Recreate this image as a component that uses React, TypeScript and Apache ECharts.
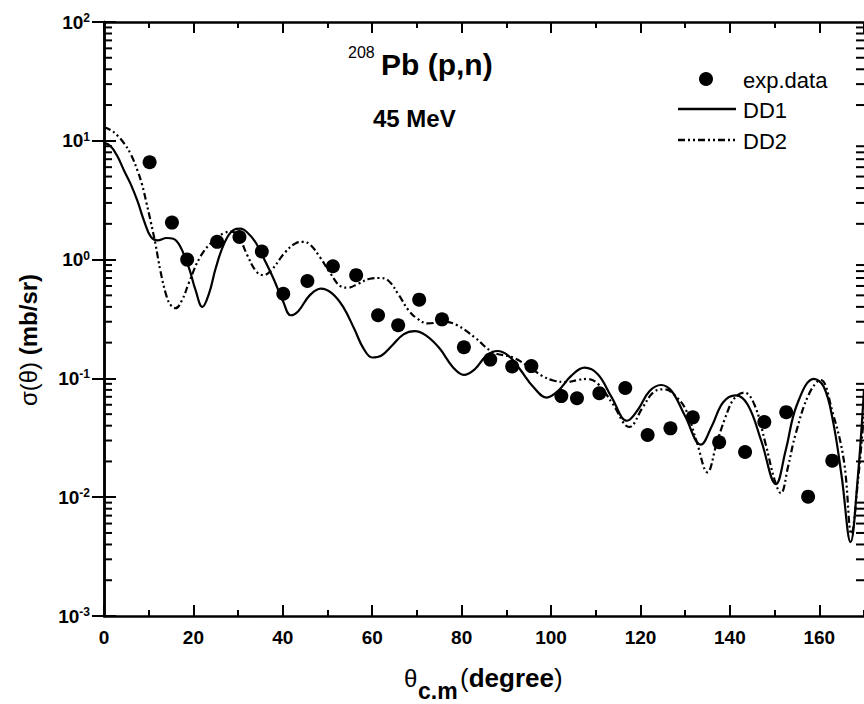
import React, { useEffect, useRef } from "react";
import * as echarts from "echarts";

// experimental points
const expTheta = [10.2, 15.2, 18.6, 25.3, 30.3, 35.3, 40.1, 45.5, 51.2, 56.4, 61.3, 65.8, 70.5, 75.6, 80.5, 86.4, 91.3, 95.6, 102.3, 105.8, 110.8, 116.6, 121.6, 126.7, 131.7, 137.6, 143.4, 147.7, 152.6, 157.5, 162.9];
const expSigma = [6.6, 2.05, 1.0, 1.41, 1.55, 1.17, 0.516, 0.66, 0.88, 0.74, 0.34, 0.28, 0.46, 0.314, 0.183, 0.144, 0.126, 0.127, 0.071, 0.068, 0.075, 0.083, 0.0334, 0.038, 0.047, 0.029, 0.024, 0.043, 0.052, 0.0101, 0.0203];

// DD1 (solid)
const dd1Theta = [0, 1.5, 3, 4.5, 6, 7.5, 9, 10.5, 12, 14, 15.5, 17, 19, 20.5, 22, 23.5, 25, 27, 29, 30.5, 32, 34, 36, 38, 40, 41.8, 43.5, 46, 48.5, 51, 53.5, 56, 58, 60, 62, 64.5, 67, 69.5, 72, 75, 78, 80.5, 83, 85.5, 88, 90.5, 93, 96, 99, 101.5, 104.5, 107.5, 110.5, 113.5, 117, 119.5, 122, 124.6, 127, 130, 133.5, 136, 138.5, 141.3, 144, 147, 150.3, 152.5, 155, 158.8, 161, 163, 165, 167, 168.5, 170];
const dd1Sigma = [9.6, 9.0, 7.4, 5.6, 4.3, 3.1, 2.1, 1.55, 1.45, 1.52, 1.5, 1.3, 0.85, 0.55, 0.4, 0.52, 0.85, 1.4, 1.78, 1.82, 1.7, 1.38, 0.98, 0.68, 0.45, 0.34, 0.37, 0.5, 0.57, 0.52, 0.4, 0.26, 0.18, 0.15, 0.155, 0.19, 0.235, 0.25, 0.23, 0.18, 0.125, 0.107, 0.12, 0.155, 0.17, 0.155, 0.12, 0.085, 0.069, 0.078, 0.105, 0.123, 0.108, 0.07, 0.044, 0.055, 0.078, 0.088, 0.078, 0.048, 0.0277, 0.04, 0.063, 0.072, 0.06, 0.03, 0.0129, 0.025, 0.06, 0.099, 0.085, 0.045, 0.015, 0.0042, 0.013, 0.08];

// DD2 (dash-dot-dot)
const dd2Theta = [0, 1.5, 3, 4.5, 6, 7.5, 8.5, 9.5, 10.5, 11.5, 12.6, 14, 15, 16, 17.5, 19, 21.5, 24.5, 27, 28.5, 30, 32, 34, 35.7, 37.5, 40.5, 43, 44.5, 46, 48.3, 50.5, 52.8, 54.5, 57, 59.5, 61.5, 63.5, 66, 68, 70, 72.5, 76, 79, 83, 87, 91.5, 95.2, 98, 100.5, 103.5, 106, 108, 110.5, 113.8, 117.5, 120.5, 123, 125.5, 128, 130.2, 132.5, 135, 137, 139, 141, 143.2, 145.5, 148, 150, 151.4, 153, 154.7, 157.7, 160.3, 162.9, 165.5, 167.2, 168.5, 170];
const dd2Sigma = [13, 12.3, 11.1, 9.5, 7.7, 5.6, 4.3, 3.0, 2.05, 1.36, 0.81, 0.49, 0.41, 0.39, 0.46, 0.64, 1.05, 1.45, 1.68, 1.72, 1.6, 1.1, 0.8, 0.74, 0.82, 1.15, 1.38, 1.41, 1.35, 1.05, 0.78, 0.6, 0.58, 0.63, 0.69, 0.7, 0.67, 0.5, 0.38, 0.32, 0.29, 0.3, 0.28, 0.22, 0.166, 0.15, 0.124, 0.105, 0.096, 0.093, 0.097, 0.099, 0.09, 0.061, 0.039, 0.057, 0.077, 0.081, 0.07, 0.054, 0.03, 0.0162, 0.028, 0.047, 0.068, 0.076, 0.06, 0.028, 0.014, 0.0108, 0.018, 0.034, 0.074, 0.097, 0.053, 0.0203, 0.0049, 0.012, 0.05];

// axis settings
const xMin = 0;
const xMax = 170;
const xMajor = 20;
const xMinor = 10;
const yMin = 0.001;
const yMax = 100;
const logDecades = [0.001, 0.01, 0.1, 1, 10];
const logMultipliers = [2, 3, 4, 5, 6, 7, 8, 9];

const legendNames = ["exp.data", "DD1", "DD2"];

const FONT = "Arial, 'Liberation Sans', sans-serif";
const DASHDOT = [7, 3, 2, 3, 2, 3];

export default function App() {
  const ref = useRef<HTMLDivElement>(null);
  useEffect(() => {
    if (!ref.current) return;
    const chart = echarts.init(ref.current, null, { renderer: "svg" });
    const zip = (a: number[], b: number[]) => a.map((v, i) => [v, b[i]]);
    const minorVals: number[] = [];
    logDecades.forEach((d) => logMultipliers.forEach((m) => minorVals.push(m * d)));

    const baseX = {
      type: "value",
      min: xMin,
      max: xMax,
      axisLine: { show: true, lineStyle: { color: "#000", width: 2.5 } },
      splitLine: { show: false },
    };
    const yLabelFmt = (v: number) => {
      const e = Math.round(Math.log10(v));
      return `{a|10}{b|${e}}`;
    };
    const minorTickSeries = (xv: number, offset: number) => ({
      type: "scatter",
      silent: true,
      clip: false,
      z: 5,
      data: minorVals.map((v) => [xv, v]),
      symbol: "rect",
      symbolSize: [8, 2],
      symbolOffset: [offset, 0],
      itemStyle: { color: "#000", opacity: 1 },
      emphasis: { disabled: true },
    });

    const option: any = {
      animation: false,
      backgroundColor: "#fff",
      grid: { left: 104, top: 22, right: 0, bottom: 88, containLabel: false, outerBoundsMode: "none" },
      xAxis: [
        {
          ...baseX,
          position: "bottom",
          interval: xMajor,
          axisTick: { show: true, inside: true, length: 11, lineStyle: { color: "#000", width: 2 } },
          axisLabel: {
            show: true, margin: 12, color: "#000", fontFamily: FONT, fontWeight: "bold", fontSize: 19,
            showMaxLabel: false,
          },
        },
        {
          ...baseX,
          position: "top",
          interval: xMajor,
          axisTick: { show: true, inside: true, length: 11, lineStyle: { color: "#000", width: 2 } },
          axisLabel: { show: false },
        },
        {
          ...baseX,
          position: "bottom",
          interval: xMinor,
          axisLine: { show: false },
          axisTick: { show: true, inside: true, length: 6, lineStyle: { color: "#000", width: 2 } },
          axisLabel: { show: false },
        },
        {
          ...baseX,
          position: "top",
          interval: xMinor,
          axisLine: { show: false },
          axisTick: { show: true, inside: true, length: 6, lineStyle: { color: "#000", width: 2 } },
          axisLabel: { show: false },
        },
      ],
      yAxis: [
        {
          type: "log",
          logBase: 10,
          min: yMin,
          max: yMax,
          position: "left",
          axisLine: { show: true, lineStyle: { color: "#000", width: 2.5 } },
          axisTick: { show: true, inside: true, length: 12, lineStyle: { color: "#000", width: 2 } },
          splitLine: { show: false },
          axisLabel: {
            show: true,
            margin: 14,
            formatter: yLabelFmt,
            rich: {
              a: { fontFamily: FONT, fontWeight: "bold", fontSize: 19, color: "#000", lineHeight: 20 },
              b: { fontFamily: FONT, fontWeight: "bold", fontSize: 12, color: "#000", verticalAlign: "top", lineHeight: 12 },
            },
          },
        },
        {
          type: "log",
          logBase: 10,
          min: yMin,
          max: yMax,
          position: "right",
          axisLine: { show: true, lineStyle: { color: "#000", width: 2.5 } },
          axisTick: { show: true, inside: true, length: 12, lineStyle: { color: "#000", width: 2 } },
          splitLine: { show: false },
          axisLabel: { show: false },
        },
      ],
      graphic: [
        { type: "text", left: 348, top: 44, style: { text: "208", font: `16px ${FONT}`, fill: "#000" } },
        { type: "text", x: 381, y: 64, style: { text: "Pb (p,n)", font: `bold 30px ${FONT}`, fill: "#000", textVerticalAlign: "middle" } },
        { type: "text", x: 373, y: 118.5, style: { text: "45 MeV", font: `bold 24px ${FONT}`, fill: "#000", textVerticalAlign: "middle" } },
        // legend
        { type: "circle", shape: { cx: 706, cy: 79, r: 7 }, style: { fill: "#000" } },
        { type: "text", x: 743, y: 80, style: { text: legendNames[0], font: `22px ${FONT}`, fill: "#000", textVerticalAlign: "middle" } },
        { type: "line", shape: { x1: 678, y1: 109, x2: 736, y2: 109 }, style: { stroke: "#000", lineWidth: 2.5 } },
        { type: "text", x: 743, y: 110, style: { text: legendNames[1], font: `22px ${FONT}`, fill: "#000", textVerticalAlign: "middle" } },
        { type: "line", shape: { x1: 678, y1: 140, x2: 736, y2: 140 }, style: { stroke: "#000", lineWidth: 2.5, lineDash: DASHDOT } },
        { type: "text", x: 743, y: 141, style: { text: legendNames[2], font: `22px ${FONT}`, fill: "#000", textVerticalAlign: "middle" } },
        // y-axis title
        {
          type: "text", x: 28, y: 340, rotation: Math.PI / 2,
          style: {
            text: "{r|σ(θ)}  {b|(mb/sr)}",
            textAlign: "center", textVerticalAlign: "middle",
            rich: {
              r: { font: `24px ${FONT}`, fill: "#000" },
              b: { font: `bold 24px ${FONT}`, fill: "#000" },
            },
          },
        },
        // x-axis title
        { type: "text", x: 404, y: 678, style: { text: "θ", font: `24px ${FONT}`, fill: "#000", textVerticalAlign: "middle" } },
        { type: "text", x: 418, y: 691, style: { text: "c.m", font: `bold 23px ${FONT}`, fill: "#000", textVerticalAlign: "middle" } },
        {
          type: "text", x: 460, y: 678,
          style: {
            text: "{r|(}{b|degree}{r|)}", textVerticalAlign: "middle",
            rich: {
              r: { font: `26px ${FONT}`, fill: "#000" },
              b: { font: `bold 26px ${FONT}`, fill: "#000" },
            },
          },
        },
      ],
      series: [
        minorTickSeries(xMin, 4),
        minorTickSeries(xMax, -4),
        {
          name: legendNames[1], type: "line", data: zip(dd1Theta, dd1Sigma), smooth: 0.4, showSymbol: false,
          lineStyle: { color: "#000", width: 2.2 }, z: 3,
        },
        {
          name: legendNames[2], type: "line", data: zip(dd2Theta, dd2Sigma), smooth: 0.4, showSymbol: false,
          lineStyle: { color: "#000", width: 2.2, type: DASHDOT }, z: 3,
        },
        {
          name: legendNames[0], type: "scatter", data: zip(expTheta, expSigma), symbol: "circle", symbolSize: 14,
          itemStyle: { color: "#000", opacity: 1 }, z: 4,
        },
      ],
    };
    chart.setOption(option);
    return () => chart.dispose();
  }, []);
  return <div ref={ref} style={{ position: "fixed", left: 0, top: 0, width: 864, height: 704, background: "#fff" }} />;
}
